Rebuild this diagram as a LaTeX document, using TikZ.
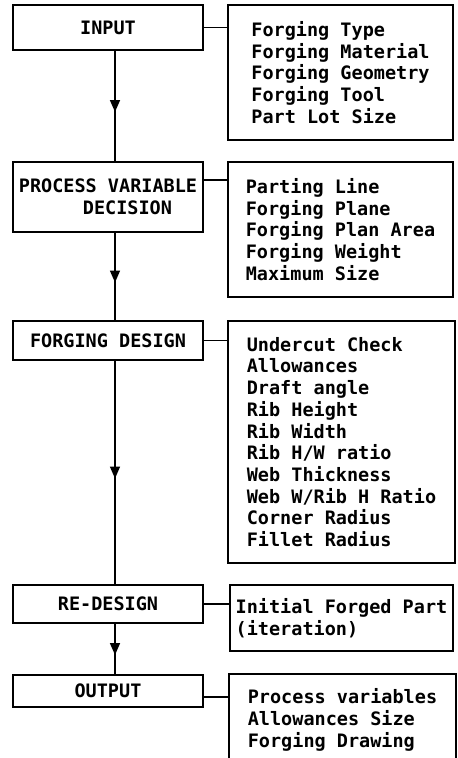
\documentclass[tikz,border=0pt]{standalone}
\usepackage{fontspec}
\setmonofont{DejaVu Sans Mono}
\usetikzlibrary{arrows.meta,decorations.markings}
\tikzset{
  stagebox/.style={draw, line width=1.6pt, minimum width=190pt, inner sep=2pt,
    align=center, font=\ttfamily\bfseries\fontsize{18.5}{21.7}\selectfont},
  itembox/.style={line width=1.6pt, minimum width=225pt, inner sep=2pt,
    align=left, font=\ttfamily\bfseries\fontsize{18.5}{21.7}\selectfont},
  flowline/.style={line width=1.6pt, postaction={decorate},
    decoration={markings, mark=at position 0.5 with
      {\arrow[xshift=6pt]{Triangle[length=12pt,width=10pt]}}}},
  tieline/.style={line width=1.6pt}
}
\begin{document}
\begin{tikzpicture}[x=1pt,y=-1pt]
  \useasboundingbox (0,0) rectangle (458,758);
  % stages
  \node[stagebox, minimum height=45pt] (input) at (108,27.5) {INPUT};
  \node[stagebox, minimum height=70pt] (pvd) at (108,197)
    {PROCESS VARIABLE\\\hspace*{2.1em}DECISION};
  \node[stagebox, minimum height=39pt] (design) at (108,340.5) {FORGING DESIGN};
  \node[stagebox, minimum height=38pt] (redesign) at (108,604) {RE-DESIGN};
  \node[stagebox, minimum height=32pt] (output) at (108,691) {OUTPUT};
  % item lists
  \node[itembox, draw, minimum height=135pt] (inputlist) at (340.5,72.5)
    {Forging Type\\Forging Material\\Forging Geometry\\Forging Tool\\Part Lot Size};
  \node[itembox, draw, minimum height=135pt] (pvdlist) at (340.5,229.5)
    {Parting Line\\Forging Plane\\Forging Plan Area\\Forging Weight\\Maximum Size};
  \node[itembox, draw, minimum width=227pt, minimum height=242pt] (designlist) at (341.5,442)
    {Undercut Check\\Allowances\\Draft angle\\Rib Height\\Rib Width\\Rib H/W ratio\\
     Web Thickness\\Web W/Rib H Ratio\\Corner Radius\\Fillet Radius};
  \node[itembox, draw, minimum width=223pt, minimum height=66pt] (redesignlist) at (341.5,618)
    {Initial Forged Part\\(iteration)};
  \node[itembox, minimum height=90pt] (outputlist) at (342.5,720)
    {Process variables\\Allowances Size\\Forging Drawing};
  % open box below the page edge
  \draw[tieline] (outputlist.south west) -- (outputlist.north west)
    -- (outputlist.north east) -- (outputlist.south east);
  % flow
  \draw[flowline] ([xshift=7pt]input.south) -- ([xshift=7pt]pvd.north);
  \draw[flowline] ([xshift=7pt]pvd.south) -- ([xshift=7pt]design.north);
  \draw[flowline] ([xshift=7pt]design.south) -- ([xshift=7pt]redesign.north);
  \draw[flowline] ([xshift=7pt]redesign.south) -- ([xshift=7pt]output.north);
  % ties to the lists
  \draw[tieline] (input.east) -- (input.east -| inputlist.west);
  \draw[tieline] ([yshift=17pt]pvd.east) -- ([yshift=17pt]pvd.east -| pvdlist.west);
  \draw[tieline] (design.east) -- (design.east -| designlist.west);
  \draw[tieline] (redesign.east) -- (redesign.east -| redesignlist.west);
  \draw[tieline] ([yshift=-6pt]output.east) -- ([yshift=-6pt]output.east -| outputlist.west);
\end{tikzpicture}
\end{document}
